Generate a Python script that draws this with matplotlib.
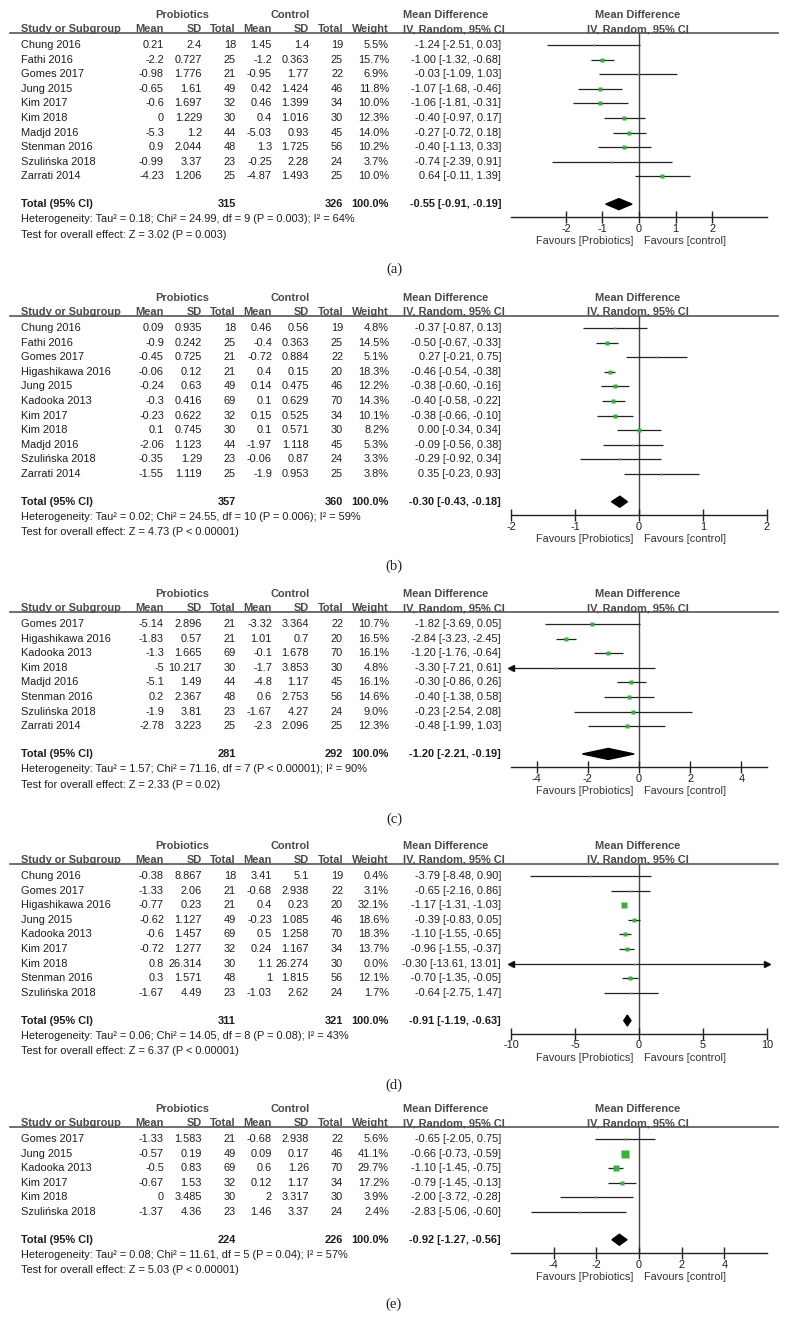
import numpy as np
import matplotlib
matplotlib.use("Agg")
import matplotlib.pyplot as plt
from matplotlib.patches import Polygon

# ---- panel (a)
a_study = ["Chung 2016", "Fathi 2016", "Gomes 2017", "Jung 2015", "Kim 2017", "Kim 2018",
           "Madjd 2016", "Stenman 2016", "Szulińska 2018", "Zarrati 2014"]
a_mean_p = [0.21, -2.2, -0.98, -0.65, -0.6, 0, -5.3, 0.9, -0.99, -4.23]
a_sd_p = [2.4, 0.727, 1.776, 1.61, 1.697, 1.229, 1.2, 2.044, 3.37, 1.206]
a_n_p = [18, 25, 21, 49, 32, 30, 44, 48, 23, 25]
a_mean_c = [1.45, -1.2, -0.95, 0.42, 0.46, 0.4, -5.03, 1.3, -0.25, -4.87]
a_sd_c = [1.4, 0.363, 1.77, 1.424, 1.399, 1.016, 0.93, 1.725, 2.28, 1.493]
a_n_c = [19, 25, 22, 46, 34, 30, 45, 56, 24, 25]
a_weight = [5.5, 15.7, 6.9, 11.8, 10.0, 12.3, 14.0, 10.2, 3.7, 10.0]
a_md = [-1.24, -1.00, -0.03, -1.07, -1.06, -0.40, -0.27, -0.40, -0.74, 0.64]
a_lo = [-2.51, -1.32, -1.09, -1.68, -1.81, -0.97, -0.72, -1.13, -2.39, -0.11]
a_hi = [0.03, -0.68, 1.03, -0.46, -0.31, 0.17, 0.18, 0.33, 0.91, 1.39]
a_total = [315, 326, -0.55, -0.91, -0.19]
a_het = "Heterogeneity: Tau² = 0.18; Chi² = 24.99, df = 9 (P = 0.003); I² = 64%"
a_test = "Test for overall effect: Z = 3.02 (P = 0.003)"
a_ticks = [-2, -1, 0, 1, 2]

# ---- panel (b)
b_study = ["Chung 2016", "Fathi 2016", "Gomes 2017", "Higashikawa 2016", "Jung 2015",
           "Kadooka 2013", "Kim 2017", "Kim 2018", "Madjd 2016", "Szulińska 2018", "Zarrati 2014"]
b_mean_p = [0.09, -0.9, -0.45, -0.06, -0.24, -0.3, -0.23, 0.1, -2.06, -0.35, -1.55]
b_sd_p = [0.935, 0.242, 0.725, 0.12, 0.63, 0.416, 0.622, 0.745, 1.123, 1.29, 1.119]
b_n_p = [18, 25, 21, 21, 49, 69, 32, 30, 44, 23, 25]
b_mean_c = [0.46, -0.4, -0.72, 0.4, 0.14, 0.1, 0.15, 0.1, -1.97, -0.06, -1.9]
b_sd_c = [0.56, 0.363, 0.884, 0.15, 0.475, 0.629, 0.525, 0.571, 1.118, 0.87, 0.953]
b_n_c = [19, 25, 22, 20, 46, 70, 34, 30, 45, 24, 25]
b_weight = [4.8, 14.5, 5.1, 18.3, 12.2, 14.3, 10.1, 8.2, 5.3, 3.3, 3.8]
b_md = [-0.37, -0.50, 0.27, -0.46, -0.38, -0.40, -0.38, 0.00, -0.09, -0.29, 0.35]
b_lo = [-0.87, -0.67, -0.21, -0.54, -0.60, -0.58, -0.66, -0.34, -0.56, -0.92, -0.23]
b_hi = [0.13, -0.33, 0.75, -0.38, -0.16, -0.22, -0.10, 0.34, 0.38, 0.34, 0.93]
b_total = [357, 360, -0.30, -0.43, -0.18]
b_het = "Heterogeneity: Tau² = 0.02; Chi² = 24.55, df = 10 (P = 0.006); I² = 59%"
b_test = "Test for overall effect: Z = 4.73 (P < 0.00001)"
b_ticks = [-2, -1, 0, 1, 2]

# ---- panel (c)
c_study = ["Gomes 2017", "Higashikawa 2016", "Kadooka 2013", "Kim 2018", "Madjd 2016",
           "Stenman 2016", "Szulińska 2018", "Zarrati 2014"]
c_mean_p = [-5.14, -1.83, -1.3, -5, -5.1, 0.2, -1.9, -2.78]
c_sd_p = [2.896, 0.57, 1.665, 10.217, 1.49, 2.367, 3.81, 3.223]
c_n_p = [21, 21, 69, 30, 44, 48, 23, 25]
c_mean_c = [-3.32, 1.01, -0.1, -1.7, -4.8, 0.6, -1.67, -2.3]
c_sd_c = [3.364, 0.7, 1.678, 3.853, 1.17, 2.753, 4.27, 2.096]
c_n_c = [22, 20, 70, 30, 45, 56, 24, 25]
c_weight = [10.7, 16.5, 16.1, 4.8, 16.1, 14.6, 9.0, 12.3]
c_md = [-1.82, -2.84, -1.20, -3.30, -0.30, -0.40, -0.23, -0.48]
c_lo = [-3.69, -3.23, -1.76, -7.21, -0.86, -1.38, -2.54, -1.99]
c_hi = [0.05, -2.45, -0.64, 0.61, 0.26, 0.58, 2.08, 1.03]
c_total = [281, 292, -1.20, -2.21, -0.19]
c_het = "Heterogeneity: Tau² = 1.57; Chi² = 71.16, df = 7 (P < 0.00001); I² = 90%"
c_test = "Test for overall effect: Z = 2.33 (P = 0.02)"
c_ticks = [-4, -2, 0, 2, 4]

# ---- panel (d)
d_study = ["Chung 2016", "Gomes 2017", "Higashikawa 2016", "Jung 2015", "Kadooka 2013",
           "Kim 2017", "Kim 2018", "Stenman 2016", "Szulińska 2018"]
d_mean_p = [-0.38, -1.33, -0.77, -0.62, -0.6, -0.72, 0.8, 0.3, -1.67]
d_sd_p = [8.867, 2.06, 0.23, 1.127, 1.457, 1.277, 26.314, 1.571, 4.49]
d_n_p = [18, 21, 21, 49, 69, 32, 30, 48, 23]
d_mean_c = [3.41, -0.68, 0.4, -0.23, 0.5, 0.24, 1.1, 1, -1.03]
d_sd_c = [5.1, 2.938, 0.23, 1.085, 1.258, 1.167, 26.274, 1.815, 2.62]
d_n_c = [19, 22, 20, 46, 70, 34, 30, 56, 24]
d_weight = [0.4, 3.1, 32.1, 18.6, 18.3, 13.7, 0.0, 12.1, 1.7]
d_md = [-3.79, -0.65, -1.17, -0.39, -1.10, -0.96, -0.30, -0.70, -0.64]
d_lo = [-8.48, -2.16, -1.31, -0.83, -1.55, -1.55, -13.61, -1.35, -2.75]
d_hi = [0.90, 0.86, -1.03, 0.05, -0.65, -0.37, 13.01, -0.05, 1.47]
d_total = [311, 321, -0.91, -1.19, -0.63]
d_het = "Heterogeneity: Tau² = 0.06; Chi² = 14.05, df = 8 (P = 0.08); I² = 43%"
d_test = "Test for overall effect: Z = 6.37 (P < 0.00001)"
d_ticks = [-10, -5, 0, 5, 10]

# ---- panel (e)
e_study = ["Gomes 2017", "Jung 2015", "Kadooka 2013", "Kim 2017", "Kim 2018", "Szulińska 2018"]
e_mean_p = [-1.33, -0.57, -0.5, -0.67, 0, -1.37]
e_sd_p = [1.583, 0.19, 0.83, 1.53, 3.485, 4.36]
e_n_p = [21, 49, 69, 32, 30, 23]
e_mean_c = [-0.68, 0.09, 0.6, 0.12, 2, 1.46]
e_sd_c = [2.938, 0.17, 1.26, 1.17, 3.317, 3.37]
e_n_c = [22, 46, 70, 34, 30, 24]
e_weight = [5.6, 41.1, 29.7, 17.2, 3.9, 2.4]
e_md = [-0.65, -0.66, -1.10, -0.79, -2.00, -2.83]
e_lo = [-2.05, -0.73, -1.45, -1.45, -3.72, -5.06]
e_hi = [0.75, -0.59, -0.75, -0.13, -0.28, -0.60]
e_total = [224, 226, -0.92, -1.27, -0.56]
e_het = "Heterogeneity: Tau² = 0.08; Chi² = 11.61, df = 5 (P = 0.04); I² = 57%"
e_test = "Test for overall effect: Z = 5.03 (P < 0.00001)"
e_ticks = [-4, -2, 0, 2, 4]

panels = [
    ("(a)", a_study, a_mean_p, a_sd_p, a_n_p, a_mean_c, a_sd_c, a_n_c, a_weight,
     a_md, a_lo, a_hi, a_total, a_het, a_test, a_ticks, 3.5, 45),
    ("(b)", b_study, b_mean_p, b_sd_p, b_n_p, b_mean_c, b_sd_c, b_n_c, b_weight,
     b_md, b_lo, b_hi, b_total, b_het, b_test, b_ticks, 2, 328),
    ("(c)", c_study, c_mean_p, c_sd_p, c_n_p, c_mean_c, c_sd_c, c_n_c, c_weight,
     c_md, c_lo, c_hi, c_total, c_het, c_test, c_ticks, 5, 624),
    ("(d)", d_study, d_mean_p, d_sd_p, d_n_p, d_mean_c, d_sd_c, d_n_c, d_weight,
     d_md, d_lo, d_hi, d_total, d_het, d_test, d_ticks, 10, 876),
    ("(e)", e_study, e_mean_p, e_sd_p, e_n_p, e_mean_c, e_sd_c, e_n_c, e_weight,
     e_md, e_lo, e_hi, e_total, e_het, e_test, e_ticks, 6, 1139),
]

W, H = 788, 1338
SANS = "Liberation Sans"
FS = 7.9
HEAD_C = "#4a4a4a"
TXT_C = "#1e1e1e"
GREEN = "#35b23a"
SP = 14.6

fig = plt.figure(figsize=(W / 100, H / 100), dpi=100)


def txt(x, y, s, ha="left", bold=False, color=TXT_C, va="center", **kw):
    fig.text(x / W, 1 - y / H, s, ha=ha, va=va, fontsize=kw.pop("fontsize", FS),
             family=kw.pop("family", SANS), fontweight="bold" if bold else "normal",
             color=color, **kw)


def g(v):
    return "%g" % v


cols = [164, 202, 236, 272, 309, 343, 389]

for (lab, study, mp, sdp, npr, mc, sdc, nc, wt, md, lo, hi, tot, het, test,
     ticks, lim, first) in panels:
    n = len(study)
    rows = [first + i * SP for i in range(n)]
    y_tot = rows[-1] + 1.9 * SP
    y_line = first - 12
    y_axis = y_tot + 13

    # headers
    txt(182, first - 30, "Probiotics", ha="center", bold=True, color=HEAD_C)
    txt(290, first - 30, "Control", ha="center", bold=True, color=HEAD_C)
    txt(403, first - 30, "Mean Difference", bold=True, color=HEAD_C)
    txt(638, first - 30, "Mean Difference", ha="center", bold=True, color=HEAD_C)
    hy = first - 16
    txt(21, hy, "Study or Subgroup", bold=True, color=HEAD_C)
    for x, s in zip(cols, ["Mean", "SD", "Total", "Mean", "SD", "Total", "Weight"]):
        txt(x, hy, s, ha="right", bold=True, color=HEAD_C)
    txt(403, hy, "IV, Random, 95% CI", bold=True, color=HEAD_C)
    txt(638, hy, "IV, Random, 95% CI", ha="center", bold=True, color=HEAD_C)
    fig.add_artist(plt.Line2D([10 / W, 778 / W], [1 - y_line / H] * 2,
                              color="#555555", lw=1.2))

    # study rows
    for i in range(n):
        y = rows[i]
        txt(21, y, study[i])
        vals = [g(mp[i]), g(sdp[i]), str(npr[i]), g(mc[i]), g(sdc[i]), str(nc[i]),
                "%.1f%%" % wt[i]]
        for x, s in zip(cols, vals):
            txt(x, y, s, ha="right")
        txt(501, y, "%.2f [%.2f, %.2f]" % (md[i], lo[i], hi[i]), ha="right")

    # totals
    txt(21, y_tot, "Total (95% CI)", bold=True)
    txt(cols[2], y_tot, str(tot[0]), ha="right", bold=True)
    txt(cols[5], y_tot, str(tot[1]), ha="right", bold=True)
    txt(cols[6], y_tot, "100.0%", ha="right", bold=True)
    txt(501, y_tot, "%.2f [%.2f, %.2f]" % (tot[2], tot[3], tot[4]), ha="right", bold=True)
    txt(21, y_tot + 1.05 * SP, het)
    txt(21, y_tot + 2.1 * SP, test)

    # forest axes, y in pixel units
    ax = fig.add_axes([511 / W, 1 - y_axis / H, (767 - 511) / W, (y_axis - y_line) / H])
    ax.set_xlim(-lim, lim)
    ax.set_ylim(y_axis, y_line)
    ax.patch.set_alpha(0)
    for s in ["top", "left", "right"]:
        ax.spines[s].set_visible(False)
    ax.spines["bottom"].set_color("#222222")
    ax.spines["bottom"].set_linewidth(1.0)
    ax.set_yticks([])
    ax.set_xticks(ticks)
    ax.set_xticklabels([str(t) for t in ticks], fontsize=FS, family=SANS, color=TXT_C)
    ax.tick_params(axis="x", direction="inout", length=8, width=1.0, pad=1,
                   color="#222222")
    ax.axvline(0, color="#444444", lw=1.0, zorder=1)

    for i in range(n):
        y = rows[i]
        l, h = max(lo[i], -lim), min(hi[i], lim)
        ax.plot([l, h], [y, y], color="#222222", lw=0.9, zorder=2,
                solid_capstyle="butt")
        if lo[i] < -lim:
            ax.plot(-lim, y, marker="<", ms=4, color="#111111", zorder=3, clip_on=False)
        if hi[i] > lim:
            ax.plot(lim, y, marker=">", ms=4, color="#111111", zorder=3, clip_on=False)
        ms = max(0.8 * np.sqrt(wt[i]), 1.3)
        ax.plot(md[i], y, marker="s", ms=ms, color=GREEN, mec="none", zorder=4)

    dh = 5.5
    ax.add_patch(Polygon([(tot[3], y_tot), (tot[2], y_tot - dh), (tot[4], y_tot),
                          (tot[2], y_tot + dh)], closed=True, color="black", zorder=5))

    # favours labels
    fx = 639
    txt(fx - 6, y_axis + 24, "Favours [Probiotics]", ha="right", color="#333333")
    txt(fx + 5, y_axis + 24, "Favours [control]", color="#333333")

    txt(394, y_tot + 65, lab, ha="center", family="Liberation Serif", fontsize=10.5,
        color="#222222")

fig.savefig("out.png", dpi=100)
